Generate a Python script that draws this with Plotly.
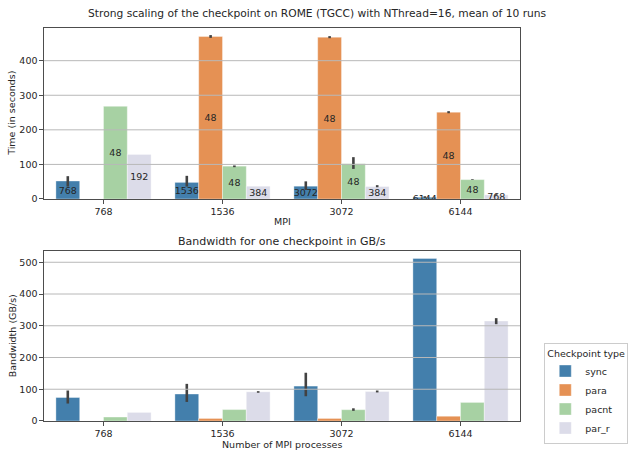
import plotly.graph_objects as go
from plotly.subplots import make_subplots

# ---------------- data ----------------
mpi = ["768", "1536", "3072", "6144"]
types = ["sync", "para", "pacnt", "par_r"]
colors = ["#437fac", "#e59154", "#a7d1a3", "#dcdce9"]

# Time (seconds), mean of 10 runs
time_sync = [52, 48, 37, 5]
time_para = [None, 470, 468, 251]
time_pacnt = [268, 95, 102, 56]
time_par_r = [129, 37, 36, 12]
# confidence interval (low, high)
time_sync_lo = [36, 36, 26, 3]
time_sync_hi = [66, 67, 51, 8]
time_para_lo = [None, 466, 465, 248]
time_para_hi = [None, 474, 471, 254]
time_pacnt_lo = [268, 92, 87, 55]
time_pacnt_hi = [268, 97, 121, 57]
time_par_r_lo = [129, 37, 34, 10]
time_par_r_hi = [129, 37, 40, 14]

# labels drawn in the bars
lab_sync = ["768", "1536", "3072", "6144"]
lab_para = ["", "48", "48", "48"]
lab_pacnt = ["48", "48", "48", "48"]
lab_par_r = ["192", "384", "384", "768"]

# Bandwidth (GB/s)
bw_sync = [74, 85, 110, 512]
bw_para = [None, 8, 8, 15]
bw_pacnt = [12.5, 36, 35.6, 58.5]
bw_par_r = [27, 92, 93, 315]
bw_sync_lo = [55, 60, 78, 512]
bw_sync_hi = [96, 117, 152, 512]
bw_para_lo = [None, 8, 8, 15]
bw_para_hi = [None, 8, 8, 15]
bw_pacnt_lo = [12.5, 36, 32, 58.5]
bw_pacnt_hi = [12.5, 36, 40, 58.5]
bw_par_r_lo = [27, 89, 90, 305]
bw_par_r_hi = [27, 94, 96, 324]

time_ticks = [0, 100, 200, 300, 400]
bw_ticks = [0, 100, 200, 300, 400, 500]

# ---------------- figure ----------------
FONT = "DejaVu Sans"
TXT = "#262626"
GRID = "#b8b8b8"
SPINE = "#4d4d4d"

fig = make_subplots(rows=2, cols=1, vertical_spacing=0.0)
fig.update_layout(
    yaxis=dict(domain=[0.5649, 1.0]),
    yaxis2=dict(domain=[0.0, 0.4326]),
)


def err(vals, lo, hi):
    up = [None if v is None else h - v for v, h in zip(vals, hi)]
    dn = [None if v is None else v - l for v, l in zip(vals, lo)]
    return dict(type="data", symmetric=False, array=up, arrayminus=dn,
                width=0, thickness=2.6, color="#424242")


time_series = [
    (time_sync, time_sync_lo, time_sync_hi, lab_sync),
    (time_para, time_para_lo, time_para_hi, lab_para),
    (time_pacnt, time_pacnt_lo, time_pacnt_hi, lab_pacnt),
    (time_par_r, time_par_r_lo, time_par_r_hi, lab_par_r),
]
bw_series = [
    (bw_sync, bw_sync_lo, bw_sync_hi),
    (bw_para, bw_para_lo, bw_para_hi),
    (bw_pacnt, bw_pacnt_lo, bw_pacnt_hi),
    (bw_par_r, bw_par_r_lo, bw_par_r_hi),
]

for name, col, (v, lo, hi, lab) in zip(types, colors, time_series):
    fig.add_trace(go.Bar(
        x=mpi, y=v, name=name, legendgroup=name, showlegend=False,
        marker=dict(color=col, line=dict(color="rgba(255,255,255,0.45)", width=0.8)),
        error_y=err(v, lo, hi),
        text=lab, textposition="inside", insidetextanchor="middle",
        textangle=0, constraintext="none",
        textfont=dict(family=FONT, size=9.5, color=TXT),
        hoverinfo="skip",
    ), row=1, col=1)

for name, col, (v, lo, hi) in zip(types, colors, bw_series):
    fig.add_trace(go.Bar(
        x=mpi, y=v, name=name, legendgroup=name, showlegend=True,
        marker=dict(color=col, line=dict(color="rgba(255,255,255,0.45)", width=0.8)),
        error_y=err(v, lo, hi),
        hoverinfo="skip",
    ), row=2, col=1)

axis_common = dict(
    showline=True, mirror=True, linecolor=SPINE, linewidth=1.2,
    ticks="outside", ticklen=3.5, tickwidth=1, tickcolor=SPINE,
    tickfont=dict(family=FONT, size=9.5, color=TXT),
    showgrid=False, zeroline=False,
)
fig.update_xaxes(**axis_common, type="category", categoryorder="array",
                 categoryarray=mpi, range=[-0.5, 3.5])
fig.update_yaxes(**axis_common)
fig.update_yaxes(range=[0, 494.5], tickvals=time_ticks, row=1, col=1)
fig.update_yaxes(range=[0, 535.5], tickvals=bw_ticks, row=2, col=1)

# gridlines drawn above the bars (as in the reference)
shapes = []
for xr, yr, ticks in (("x", "y", time_ticks), ("x2", "y2", bw_ticks)):
    for t in ticks[1:]:
        shapes.append(dict(type="line", layer="above", xref=f"{xr} domain", x0=0, x1=1,
                           yref=yr, y0=t, y1=t, line=dict(color=GRID, width=1)))
    for c in mpi:
        shapes.append(dict(type="line", layer="above", xref=xr, x0=c, x1=c,
                           yref=f"{yr} domain", y0=0, y1=1, line=dict(color=GRID, width=1)))

ann = [
    dict(text="Strong scaling of the checkpoint on ROME (TGCC) with NThread=16, mean of 10 runs",
         x=0.574, y=1.038, font=dict(size=10.7)),
    dict(text="MPI", x=0.5, y=0.507, font=dict(size=9.5)),
    dict(text="Bandwidth for one checkpoint in GB/s", x=0.5, y=0.456, font=dict(size=11)),
    dict(text="Number of MPI processes", x=0.5, y=-0.061, font=dict(size=9.5)),
    dict(text="Time (in seconds)", x=-0.067, y=0.782, textangle=-90, font=dict(size=9.5)),
    dict(text="Bandwidth (GB/s)", x=-0.067, y=0.216, textangle=-90, font=dict(size=9.5)),
]
annotations = []
for a in ann:
    a = dict(a)
    a.update(xref="paper", yref="paper", xanchor="center", yanchor="middle", showarrow=False)
    a["font"] = dict(family=FONT, color=TXT, **a["font"])
    annotations.append(a)

fig.update_layout(
    width=640, height=456,
    margin=dict(l=44, r=103, t=28, b=35),
    paper_bgcolor="white", plot_bgcolor="white",
    barmode="group", bargap=0.2, bargroupgap=0.0,
    shapes=shapes, annotations=annotations,
    font=dict(family=FONT, color=TXT),
    legend=dict(
        title=dict(text="Checkpoint type", font=dict(family=FONT, size=9.5, color=TXT)),
        font=dict(family=FONT, size=9.5, color=TXT),
        x=1.051, y=0.198, xanchor="left", yanchor="top",
        bordercolor="#cccccc", borderwidth=1, bgcolor="white",
        tracegroupgap=0, itemwidth=30,
    ),
)

fig.write_html("out.html", config={"displayModeBar": False},
               post_script="document.body.style.margin='0';")
